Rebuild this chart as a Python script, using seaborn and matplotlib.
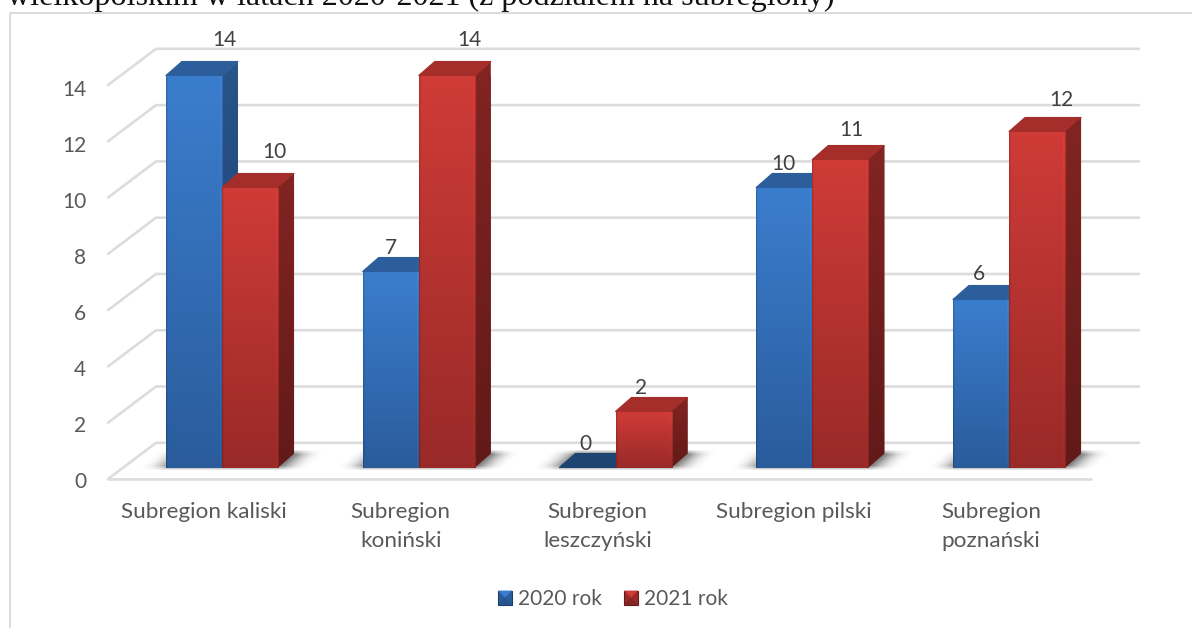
import numpy as np
import pandas as pd
import matplotlib
matplotlib.use("Agg")
import matplotlib.pyplot as plt
import matplotlib.colors as mcolors
from matplotlib.patches import Polygon, Rectangle
from matplotlib.transforms import ScaledTranslation
import seaborn as sns

subregions = ["Subregion kaliski", "Subregion\nkoniński", "Subregion\nleszczyński", "Subregion pilski", "Subregion\npoznański"]
years = ["2020 rok", "2021 rok"]
values_2020 = [14, 7, 0, 10, 6]
values_2021 = [10, 14, 2, 11, 12]
y_ticks = [0, 2, 4, 6, 8, 10, 12, 14]
title_text = "wielkopolskim w latach 2020-2021 (z podziałem na subregiony)"

# label nudges in pixels, the label does not sit centred over the bar
label_shift = {
    "2020 rok": [(30, 35), (0, 24), (-2, 23), (-1, 24), (-2, 25)],
    "2021 rok": [(24, 35), (23, 35), (-2, 24), (11, 30), (24, 31)],
}

W, H = 1192, 628
FONT = ["Lato", "DejaVu Sans"]
TXT = "#595959"
GRID = "#dcdcdc"

sns.set_theme(style="white")
plt.rcParams["font.family"] = FONT

df = pd.DataFrame({
    "subregion": subregions * 2,
    "rok": [years[0]] * 5 + [years[1]] * 5,
    "value": values_2020 + values_2021,
})

fig = plt.figure(figsize=(W / 100, H / 100), dpi=100)
fig.patch.set_facecolor("white")

# pixel axes for frame, walls and shadows
bg = fig.add_axes([0, 0, 1, 1], zorder=0)
bg.set_xlim(0, W)
bg.set_ylim(H, 0)
bg.axis("off")

left, right, base, top = 123.6, 1107.4, 467.5, 75.5
ax = fig.add_axes([left / W, 1 - base / H, (right - left) / W, (base - top) / H], zorder=1)
ax.patch.set_alpha(0)

sns.barplot(data=df, x="subregion", y="value", hue="rok", palette=["#3a7bca", "#cb3a36"],
            width=0.57, gap=0, saturation=1, ax=ax)
ax.set_xlim(-0.5, 4.5)
ax.set_ylim(0, 14)
ax.set_xlabel("")
ax.set_ylabel("")
sns.despine(ax=ax, left=True, bottom=True)
ax.tick_params(axis="x", length=0, pad=25, labelsize=16.2, labelcolor=TXT)
ax.tick_params(axis="y", length=0, pad=27, labelsize=15, labelcolor=TXT)
ax.set_yticks(y_ticks)
for lab in ax.get_xticklabels():
    lab.set_linespacing(1.52)
    lab.set_transform(lab.get_transform() + ScaledTranslation(-18 / 100, 0, fig.dpi_scale_trans))
for lab in ax.get_yticklabels():
    lab.set_transform(lab.get_transform() + ScaledTranslation(0, -13 / 100, fig.dpi_scale_trans))

px_x = (right - left) / 5
px_y = (base - top) / 14
dep_x, dep_y = 16 / px_x, 14 / px_y

# frame
bg.plot([9.5, 9.5, W], [H, 12.5, 12.5], color=GRID, lw=1.4, solid_capstyle="butt")

# walls and floor
wall_px = 28.14
for t in y_ticks:
    yb = 442.8 - t * wall_px
    yf = 479 - t * wall_px
    bg.plot([108, 156, 1139], [yf, yb, yb], color=GRID, lw=1.9, solid_joinstyle="round")
bg.plot([108, 1091], [479, 479], color=GRID, lw=1.9)

# soft shadow on the floor, fades away from each bar pair
yy, xx = np.mgrid[446:475, 100:1140]
slant = (468 - yy) * 16 / 14
shade = np.zeros(xx.shape, dtype=float)
for k in range(5):
    g0 = left + (k + 0.5 - 0.285) * px_x
    g1 = left + (k + 0.5 + 0.285) * px_x
    dist = np.maximum(np.maximum(g0 + slant - xx, xx - (g1 + slant)), 0)
    a = 0.72 * np.clip(1 - dist / 30, 0, 1) ** 2.2
    a[(yy < 452) | (yy > 467)] = 0
    shade = np.maximum(shade, a)
kernel = np.ones(5) / 5
shade = np.apply_along_axis(lambda r: np.convolve(r, kernel, mode="same"), 0, shade)
shade_img = np.zeros(shade.shape + (4,))
shade_img[..., :3] = 0.3
shade_img[..., 3] = shade
bg.imshow(shade_img, extent=(100, 1140, 475, 446), aspect="auto", zorder=1, interpolation="bilinear")
bg.set_xlim(0, W)
bg.set_ylim(H, 0)


def grad(target, box, c_top, c_bot, clip, edge=False, z=3):
    c_top = np.array(mcolors.to_rgb(c_top))
    c_bot = np.array(mcolors.to_rgb(c_bot))
    t = np.linspace(0, 1, 64)[:, None, None]
    img = np.repeat(c_top[None, None, :] * (1 - t) + c_bot[None, None, :] * t, 56, axis=1)
    if edge:
        prof = np.ones(56)
        prof[:2] = [0.84, 0.95]
        prof[-3:] = [1.05, 1.0, 0.88]
        img = np.clip(img * prof[None, :, None], 0, 1)
    im = target.imshow(img, extent=box, origin="upper", aspect="auto", zorder=z, interpolation="bilinear")
    im.set_clip_path(clip)


styles = [
    dict(front=("#3b7dcd", "#2a5c9c"), side=("#28548a", "#1c3f6c"), roof="#2c5e9c", zero="#1e4472"),
    dict(front=("#cf3b37", "#992a28"), side=("#822422", "#611a18"), roof="#a52d2a", zero="#7f2422"),
]

for i, (container, year) in enumerate(zip(ax.containers, years)):
    st = styles[i]
    z = 3 + 2 * i
    for j, bar in enumerate(container):
        x0, w, h = bar.get_x(), bar.get_width(), bar.get_height()
        x1 = x0 + w
        bar.set_edgecolor("none")
        bar.set_linewidth(0)
        # side face, roof, then the front
        side = Polygon([(x1, 0), (x1 + dep_x, dep_y), (x1 + dep_x, h + dep_y), (x1, h)], closed=True,
                       fc=st["side"][0], ec="none", zorder=z)
        roof = Polygon([(x0, h), (x0 + dep_x, h + dep_y), (x1 + dep_x, h + dep_y), (x1, h)], closed=True,
                       fc=st["zero"] if h == 0 else st["roof"], ec=st["zero"] if h == 0 else st["roof"],
                       lw=0.8, joinstyle="round", zorder=z, clip_on=False)
        ax.add_patch(side)
        ax.add_patch(roof)
        side.set_clip_on(False)
        if h > 0:
            grad(ax, (x1, x1 + dep_x, 0, h + dep_y), st["side"][0], st["side"][1], side, z=z)
            bar.set_zorder(z + 0.5)
            grad(ax, (x0, x1, 0, h), st["front"][0], st["front"][1], bar, edge=True, z=z + 1)
        else:
            side.set_visible(False)
            bar.set_visible(False)
        dx, dy = label_shift[year][j]
        ax.annotate(str(int(h)), ((x0 + x1) / 2, h), xytext=(dx, dy), xycoords="data",
                    textcoords="offset pixels", ha="center", va="center", fontsize=15,
                    color="#404040", zorder=12, annotation_clip=False)

ax.set_xlim(-0.5, 4.5)
ax.set_ylim(0, 14)
for im in ax.images:
    im.set_clip_on(True)

# legend
handles = ax.get_legend().legend_handles
ax.get_legend().remove()
leg = fig.legend(handles, years, ncol=2, loc="center", bbox_to_anchor=(613 / W, 1 - 599 / H),
                 frameon=False, fontsize=15, labelcolor=TXT, handlelength=0.67, handleheight=0.67,
                 handletextpad=0.29, columnspacing=1.05)

fig.text(7 / W, 1 - 5 / H, title_text, family="Liberation Serif", fontsize=23.1, color="#111111",
         ha="left", va="baseline", zorder=5)

fig.canvas.draw()
for patch, st in zip(leg.get_patches(), styles):
    bb = patch.get_window_extent()
    xa, xb, ya, yb = bb.x0, bb.x1, bb.y0, bb.y1
    xm, ym = (xa + xb) / 2, (ya + yb) / 2
    fig.add_artist(Rectangle((xa, ya), xb - xa, yb - ya, fc=st["front"][1], ec=st["side"][1], lw=0.8,
                             transform=None, zorder=6))
    fig.add_artist(Polygon([(xa, yb), (xb, yb), (xm, ym)], closed=True, fc=st["front"][0], ec="none",
                           transform=None, zorder=7))
    fig.add_artist(Polygon([(xa, ya), (xb, ya), (xm, ym)], closed=True, fc=st["side"][0], ec="none",
                           transform=None, zorder=7))

fig.savefig("out.png", dpi=100)
